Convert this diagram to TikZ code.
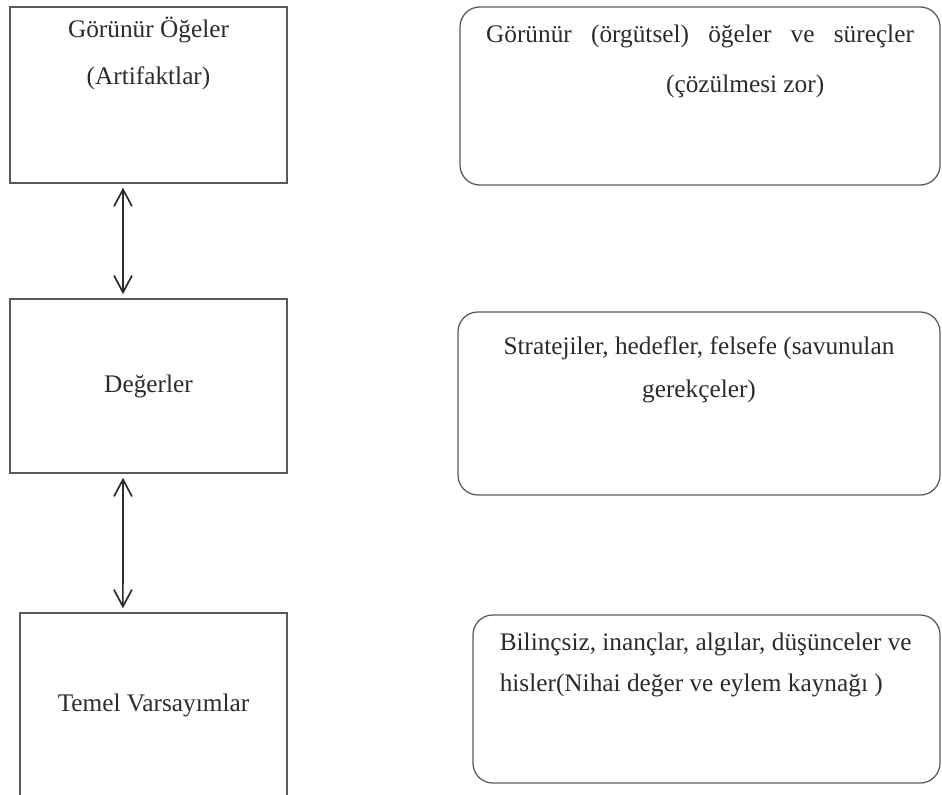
\documentclass[tikz,border=0pt]{standalone}
\usepackage{fontspec}
\setmainfont{Liberation Serif}
\usepackage{tikz}
\usetikzlibrary{arrows.meta,positioning}
\definecolor{edge}{HTML}{5A5A5A}
\definecolor{ink}{HTML}{2B2B2B}

\begin{document}
\begin{tikzpicture}[
    level/.style = {draw=edge, line width=0.6pt, inner sep=0pt, text=ink,
                    font=\fontsize{12}{22}\selectfont, align=center},
    note/.style  = {draw=edge, line width=0.6pt, rounded corners=0.33cm,
                    inner sep=0pt},
    txt/.style   = {inner sep=0pt, text=ink},
    arr/.style   = {{Straight Barb[length=2.8mm,width=3mm]}-{Straight Barb[length=2.8mm,width=3mm]},
                    line width=0.8pt, draw=ink, shorten <=0.07cm, shorten >=0.07cm},
]
\clip (0,0) rectangle (15.7,-13.25);
\node[level, minimum width=4.62cm, minimum height=2.93cm] (arti)  at (2.475,-1.583)  {};
\node[level, minimum width=4.62cm, minimum height=2.9cm]  (deger) at (2.475,-6.433)  {Değerler};
\node[level, minimum width=4.45cm, minimum height=3.08cm] (temel) at (2.558,-11.758) {Temel Varsayımlar};
\node[txt, align=center, font=\fontsize{12}{22.3}\selectfont, below=0.17cm of arti.north] (artiT)
     {Görünür Öğeler\\(Artifaktlar)};

\node[note, minimum width=8cm,    minimum height=2.967cm] (artiD)  at (11.667,-1.6)  {};
\node[note, minimum width=8.033cm, minimum height=3.05cm] (degerD) at (11.65,-6.725) {};
\node[note, minimum width=7.783cm, minimum height=2.8cm]  (temelD) at (11.775,-11.65) {};
\node[txt, align=left, font=\fontsize{12}{23.5}\selectfont, below=0.31cm of artiD.north] (artiDT)
     {\makebox[7.13cm][s]{Görünür (örgütsel) öğeler ve süreçler}\\\hspace*{3cm}(çözülmesi zor)};
\node[txt, align=center, font=\fontsize{12}{20.4}\selectfont, below=0.41cm of degerD.north] (degerDT)
     {Stratejiler, hedefler, felsefe (savunulan\\gerekçeler)};
\node[txt, align=left, font=\fontsize{12}{19.3}\selectfont, below right=0.31cm and 0.45cm of temelD.north west] (temelDT)
     {Bilinçsiz, inançlar, algılar, düşünceler ve\\hisler(Nihai değer ve eylem kaynağı )};

\draw[arr] ([xshift=-0.425cm]arti.south)  -- ([xshift=-0.425cm]deger.north);
\draw[arr] ([xshift=-0.425cm]deger.south) -- ([xshift=-0.51cm]temel.north);
\end{tikzpicture}
\end{document}
